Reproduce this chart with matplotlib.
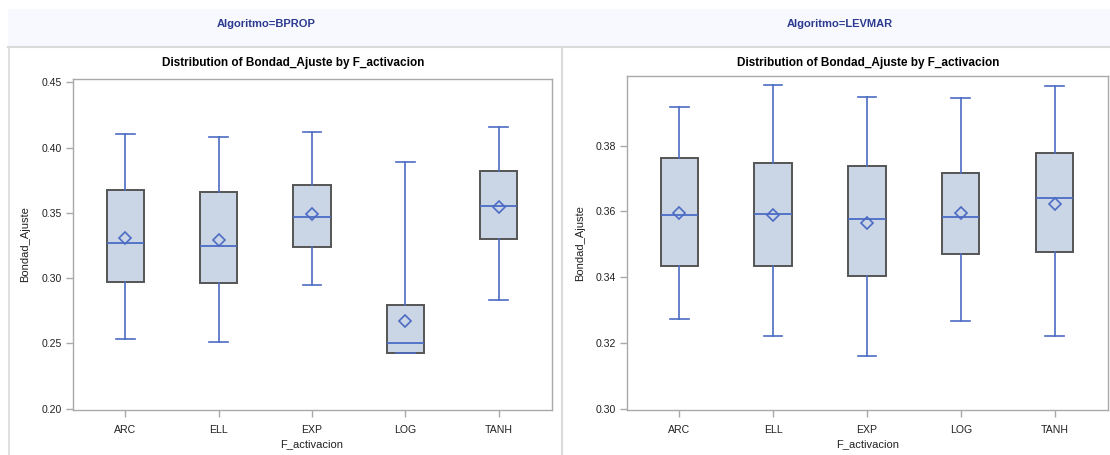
import matplotlib
matplotlib.use("Agg")
import matplotlib.pyplot as plt
from matplotlib.patches import Rectangle

plt.rcParams['font.family'] = ['Liberation Sans', 'DejaVu Sans']

categories = ['ARC', 'ELL', 'EXP', 'LOG', 'TANH']

# BPROP
bprop_whislo = [0.2532, 0.2514, 0.2949, 0.2429, 0.2834]
bprop_q1     = [0.2974, 0.2962, 0.3238, 0.2429, 0.3301]
bprop_med    = [0.3268, 0.3250, 0.3470, 0.2502, 0.3555]
bprop_q3     = [0.3677, 0.3662, 0.3716, 0.2793, 0.3823]
bprop_whishi = [0.4107, 0.4078, 0.4122, 0.3887, 0.4160]
bprop_mean   = [0.3311, 0.3296, 0.3495, 0.2675, 0.3545]

# LEVMAR
levmar_whislo = [0.3273, 0.3220, 0.3161, 0.3267, 0.3222]
levmar_q1     = [0.3434, 0.3435, 0.3404, 0.3471, 0.3476]
levmar_med    = [0.3590, 0.3592, 0.3578, 0.3582, 0.3640]
levmar_q3     = [0.3763, 0.3748, 0.3737, 0.3718, 0.3778]
levmar_whishi = [0.3919, 0.3986, 0.3947, 0.3944, 0.3983]
levmar_mean   = [0.3596, 0.3589, 0.3564, 0.3595, 0.3624]

bprop_yticks = [0.20, 0.25, 0.30, 0.35, 0.40, 0.45]
levmar_yticks = [0.30, 0.32, 0.34, 0.36, 0.38]

W, H = 1110, 455
fig = plt.figure(figsize=(W / 100, H / 100), dpi=100)

BOX_FILL = '#CAD5E6'
BOX_EDGE = '#555555'
LINE = '#4C6CC4'
FRAME = '#A9A9A9'
PANEL = '#DADADA'
STRIP = '#F7F9FE'
HEAD = '#2B3A8F'


def fx(px):
    return px / W


def fy(py):
    return 1 - py / H


# header strip and panel borders
fig.patches.append(Rectangle((fx(8), fy(46.5)), fx(1110 - 8), (46.5 - 9) / H,
                             transform=fig.transFigure, facecolor=STRIP,
                             edgecolor='none', zorder=0))
fig.add_artist(plt.Line2D([fx(8), fx(1110)], [fy(46.5), fy(46.5)], color=PANEL, lw=1.5))
fig.add_artist(plt.Line2D([fx(8.5), fx(8.5)], [fy(46.5), 0], color=PANEL, lw=1.2))
fig.add_artist(plt.Line2D([fx(562), fx(562)], [fy(46.5), 0], color=PANEL, lw=1.5))

fig.text(fx(266), fy(24), 'Algoritmo=BPROP', ha='center', va='center',
         fontsize=8, fontweight='bold', color=HEAD)
fig.text(fx(840), fy(24), 'Algoritmo=LEVMAR', ha='center', va='center',
         fontsize=8, fontweight='bold', color=HEAD)


def panel(rect, whislo, q1, med, q3, whishi, mean, yticks, ylim, xlim, title_x, xlabel_x):
    ax = fig.add_axes(rect)
    stats = []
    for i, c in enumerate(categories):
        stats.append(dict(label=c, whislo=whislo[i], q1=q1[i], med=med[i],
                          q3=q3[i], whishi=whishi[i], mean=mean[i], fliers=[]))
    pos = list(range(len(categories)))
    ax.bxp(stats, positions=pos, widths=0.4, capwidths=0.2, patch_artist=True,
           showmeans=True, showfliers=False,
           boxprops=dict(facecolor=BOX_FILL, edgecolor=BOX_EDGE, linewidth=1.4),
           whiskerprops=dict(color=LINE, linewidth=1.2),
           capprops=dict(color=LINE, linewidth=1.2),
           medianprops=dict(color=LINE, linewidth=1.3),
           meanprops=dict(marker='D', markerfacecolor='none', markeredgecolor=LINE,
                          markersize=6, markeredgewidth=1.2))
    ax.set_xlim(*xlim)
    ax.set_ylim(*ylim)
    ax.set_yticks(yticks)
    ax.set_yticklabels([f'{t:.2f}' for t in yticks])
    ax.set_xticks(pos)
    ax.set_xticklabels(categories)
    for s in ax.spines.values():
        s.set_color(FRAME)
        s.set_linewidth(1.0)
    ax.tick_params(axis='both', colors=FRAME, labelcolor='#222222', labelsize=7.6,
                   length=5, width=1.0, pad=3)
    ax.tick_params(axis='x', pad=6)
    ax.set_ylabel('Bondad_Ajuste', fontsize=8, color='#222222', labelpad=8)
    fig.text(fx(title_x), fy(63), 'Distribution of Bondad_Ajuste by F_activacion',
             ha='center', va='center', fontsize=8.5, fontweight='bold', color='black')
    fig.text(fx(xlabel_x), fy(444), 'F_activacion', ha='center', va='center',
             fontsize=8, color='#222222')
    return ax


ax1 = panel([fx(72.7), fy(410), fx(552.3 - 72.7), (410 - 78.7) / H],
            bprop_whislo, bprop_q1, bprop_med, bprop_q3, bprop_whishi, bprop_mean,
            bprop_yticks, (0.199, 0.4528), (-0.564, 4.573), 293, 312)
ax2 = panel([fx(627.3), fy(410), fx(1107.7 - 627.3), (410 - 76.3) / H],
            levmar_whislo, levmar_q1, levmar_med, levmar_q3, levmar_whishi, levmar_mean,
            levmar_yticks, (0.2996, 0.4011), (-0.554, 4.567), 868, 868)

fig.savefig('out.png', dpi=100)
